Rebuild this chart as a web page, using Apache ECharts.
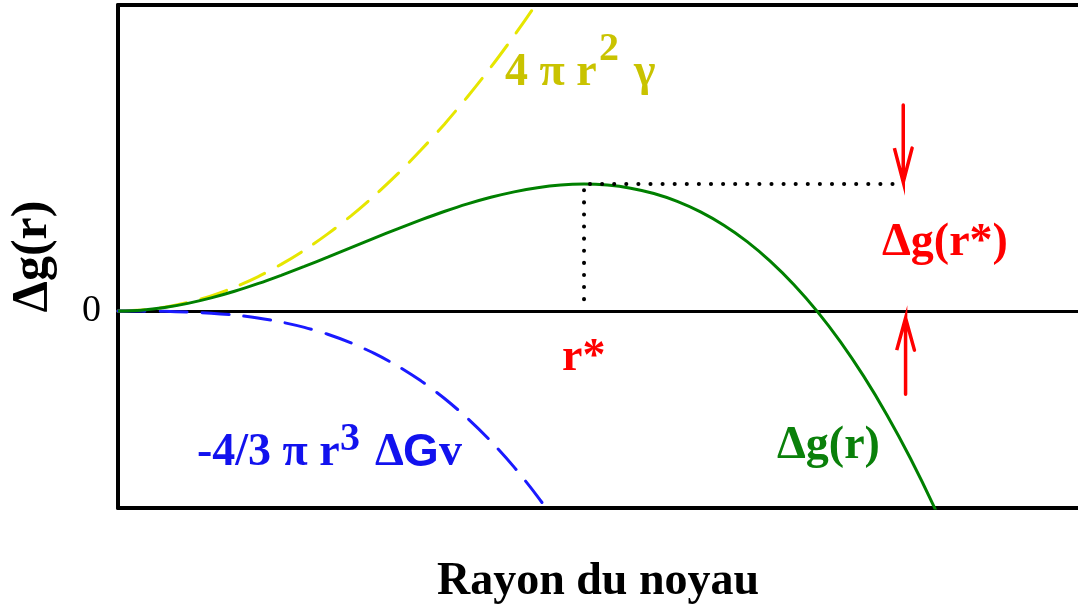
<!DOCTYPE html>
<html>
<head>
<meta charset="utf-8">
<script src="https://cdn.jsdelivr.net/npm/echarts@6/dist/echarts.min.js"></script>
<style>
html,body{margin:0;padding:0;background:#fff;}
#chart{width:1078px;height:607px;}
</style>
</head>
<body>
<div id="chart"></div>
<script>
// Radius (r* = 1) and free-energy values (Δg(r*) = 1)
const rSurface = [0,0.05,0.1,0.15,0.2,0.25,0.3,0.35,0.4,0.45,0.5,0.55,0.6,0.65,0.7,0.75,0.8,0.85,0.9];
const gSurface = [0,0.008,0.03,0.068,0.12,0.188,0.27,0.368,0.48,0.608,0.75,0.908,1.08,1.268,1.47,1.688,1.92,2.168,2.43];

const rVolume = [0,0.05,0.1,0.15,0.2,0.25,0.3,0.35,0.4,0.45,0.5,0.55,0.6,0.65,0.7,0.75,0.8,0.85,0.9,0.95];
const gVolume = [0,0,-0.002,-0.007,-0.016,-0.031,-0.054,-0.086,-0.128,-0.182,-0.25,-0.333,-0.432,-0.549,-0.686,-0.844,-1.024,-1.228,-1.458,-1.715];

const rTotal = [0,0.05,0.1,0.15,0.2,0.25,0.3,0.35,0.4,0.45,0.5,0.55,0.6,0.65,0.7,0.75,0.8,0.85,0.9,0.95,1.0,1.05,1.1,1.15,1.2,1.25,1.3,1.35,1.4,1.45,1.5,1.55,1.6,1.65,1.7,1.75,1.8];
const gTotal = [0,0.007,0.028,0.061,0.104,0.156,0.216,0.282,0.352,0.425,0.5,0.575,0.648,0.718,0.784,0.844,0.896,0.939,0.972,0.993,1.0,0.992,0.968,0.926,0.864,0.781,0.676,0.547,0.392,0.21,0,-0.24,-0.512,-0.817,-1.156,-1.531,-1.944];

// Annotation guides (data coordinates)
const guideDotted = [[1,0.094],[1,1],[1.685,1]];
const arrowDown = [[1.685,1.622],[1.685,1.016],[1.666,1.283],[1.685,1.016],[1.704,1.283]];
const arrowUp = [[1.690,-0.654],[1.690,-0.055],[1.671,-0.307],[1.690,-0.055],[1.709,-0.307]];

const xRange = [0, 2.06];
const yRange = [-1.55, 2.41];
const yTickLabels = [0];

function pairs(xs, ys){ return xs.map((x,i)=>[x, ys[i]]); }

const SERIF = '"Liberation Serif", "Times New Roman", serif';
const SANS = '"Liberation Sans", Arial, sans-serif';

const chart = echarts.init(document.getElementById('chart'), null, {renderer:'canvas'});

function txt(x, y, text, size, color, family, weight){
  return {type:'text', x:x, y:y, silent:true, z:100,
    style:{text:text, fill:color, font:(weight||'bold')+' '+size+'px '+(family||SERIF), textAlign:'left', textVerticalAlign:'middle', verticalAlign:'middle'}};
}

const YEL='#c9c300', BLU='#1212ee', GRN='#0a800a', RED='#ff0000';

const option = {
  animation:false,
  backgroundColor:'#ffffff',
  grid:{left:118, right:0, top:5, bottom:99, containLabel:false, outerBoundsMode:'none'},
  xAxis:[
    {type:'value', min:xRange[0], max:xRange[1], position:'bottom',
     axisLine:{show:true, onZero:false, lineStyle:{color:'#000', width:4}},
     axisTick:{show:false}, axisLabel:{show:false}, splitLine:{show:false},
     name:'Rayon du noyau', nameLocation:'middle', nameGap:51,
     nameTextStyle:{color:'#000', fontFamily:SERIF, fontWeight:'bold', fontSize:46}},
    {type:'value', min:xRange[0], max:xRange[1], position:'top',
     axisLine:{show:true, onZero:false, lineStyle:{color:'#000', width:4}},
     axisTick:{show:false}, axisLabel:{show:false}, splitLine:{show:false}}
  ],
  yAxis:{type:'value', min:yRange[0], max:yRange[1],
    axisLine:{show:true, onZero:false, lineStyle:{color:'#000', width:4}},
    axisTick:{show:false}, splitLine:{show:false},
    axisLabel:{show:true, customValues:yTickLabels, margin:17, color:'#000', fontFamily:SERIF, fontSize:38,
      formatter:function(v){ return yTickLabels.indexOf(v) >= 0 ? String(v) : ''; }},
    name:'Δg(r)', nameLocation:'middle', nameRotate:90, nameGap:60,
    nameTextStyle:{color:'#000', fontFamily:SERIF, fontWeight:'bold', fontSize:50}},
  series:[
    {type:'line', name:'surface', data:pairs(rSurface,gSurface), showSymbol:false, clip:true,
     smooth:0.3,
     lineStyle:{color:'#e6e600', width:3, type:[27,15], cap:'round'}, z:3},
    {type:'line', name:'volume', data:pairs(rVolume,gVolume), showSymbol:false, clip:true,
     smooth:0.3,
     lineStyle:{color:'#1a1aff', width:3, type:[27,15], cap:'round'}, z:3},
    {type:'line', name:'total', data:pairs(rTotal,gTotal), showSymbol:false, clip:true,
     smooth:0.3,
     lineStyle:{color:'#008000', width:3}, z:4,
     markLine:{silent:true, symbol:['none','none'], label:{show:false},
       lineStyle:{color:'#000', width:3, type:'solid'}, data:[{yAxis:0}], z:2}},
    {type:'line', name:'guide', data:guideDotted, showSymbol:false, clip:true,
     lineStyle:{color:'#000', width:4, type:[0.1,12], cap:'round'}, z:5},
    {type:'line', name:'arrowDown', data:arrowDown, showSymbol:false, clip:true,
     lineStyle:{color:RED, width:3.5, cap:'round', join:'miter'}, z:5},
    {type:'line', name:'arrowUp', data:arrowUp, showSymbol:false, clip:true,
     lineStyle:{color:RED, width:3.5, cap:'round', join:'miter'}, z:5}
  ],
  graphic:[
    txt(505, 73, '4 π r', 46, YEL),
    txt(599, 50, '2', 40, YEL),
    txt(634, 73, 'γ', 46, YEL),
    txt(197, 453, '-4/3 π r', 46, BLU),
    txt(340, 440, '3', 40, BLU),
    txt(375, 453, 'Δ', 46, BLU),
    txt(403, 453, 'G', 46, BLU, SANS),
    txt(439, 453, 'v', 46, BLU),
    txt(777, 446, 'Δg(r)', 46, GRN),
    txt(882, 243, 'Δg(r*)', 46, RED),
    txt(562, 358, 'r*', 46, RED)
  ]
};
chart.setOption(option);
</script>
</body>
</html>
